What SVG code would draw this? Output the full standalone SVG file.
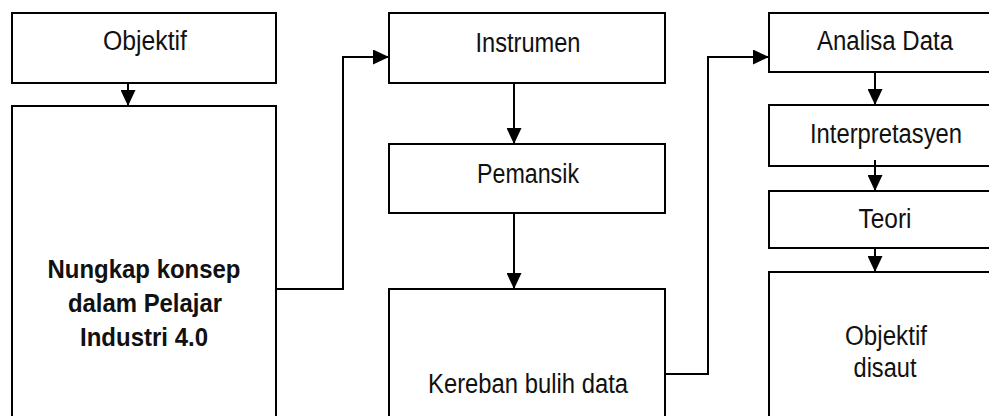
<svg xmlns="http://www.w3.org/2000/svg" width="989" height="416" viewBox="0 0 989 416">
  <defs>
    <marker id="arr" markerUnits="userSpaceOnUse" markerWidth="16" markerHeight="15" refX="16" refY="7.5" orient="auto">
      <path d="M0,0 L16,7.5 L0,15 z" fill="#000"/>
    </marker>
  </defs>
  <style>
    .box { fill: #fff; stroke: #000; stroke-width: 2; }
    .t { font-family: "Liberation Sans", Arial, sans-serif; font-size: 27px; fill: #111; text-anchor: middle; }
    .b { font-weight: bold; font-size: 26px; }
    .c { fill: none; stroke: #000; stroke-width: 2; }
  </style>
  <rect width="989" height="416" fill="#fff"/>

  <g id="objektif">
    <rect class="box" x="12" y="13" width="264" height="70"/>
    <text class="t" x="145" y="50" textLength="84" lengthAdjust="spacingAndGlyphs">Objektif</text>
  </g>
  <g id="nungkap">
    <rect class="box" x="12" y="106" width="264" height="330"/>
    <text class="t b" x="144" y="278" textLength="193" lengthAdjust="spacingAndGlyphs">Nungkap konsep</text>
    <text class="t b" x="145" y="312" textLength="154" lengthAdjust="spacingAndGlyphs">dalam Pelajar</text>
    <text class="t b" x="144" y="346" textLength="128" lengthAdjust="spacingAndGlyphs">Industri 4.0</text>
  </g>
  <g id="instrumen">
    <rect class="box" x="389" y="13" width="276" height="70"/>
    <text class="t" x="528" y="52" textLength="105" lengthAdjust="spacingAndGlyphs">Instrumen</text>
  </g>
  <g id="pemansik">
    <rect class="box" x="389" y="144" width="276" height="69"/>
    <text class="t" x="528" y="183" textLength="102" lengthAdjust="spacingAndGlyphs">Pemansik</text>
  </g>
  <g id="kereban">
    <rect class="box" x="389" y="289" width="276" height="150"/>
    <text class="t" x="528" y="393" textLength="200" lengthAdjust="spacingAndGlyphs">Kereban bulih data</text>
  </g>
  <g id="analisa">
    <rect class="box" x="769" y="13" width="240" height="59"/>
    <text class="t" x="885" y="50" textLength="136" lengthAdjust="spacingAndGlyphs">Analisa Data</text>
  </g>
  <g id="interpretasyen">
    <rect class="box" x="769" y="105" width="240" height="61"/>
    <text class="t" x="886" y="143" textLength="152" lengthAdjust="spacingAndGlyphs">Interpretasyen</text>
  </g>
  <g id="teori">
    <rect class="box" x="769" y="191" width="240" height="57"/>
    <text class="t" x="885" y="228" textLength="53" lengthAdjust="spacingAndGlyphs">Teori</text>
  </g>
  <g id="objektif-disaut">
    <rect class="box" x="769" y="272" width="240" height="170"/>
    <text class="t" x="886" y="345" textLength="82" lengthAdjust="spacingAndGlyphs">Objektif</text>
    <text class="t" x="885" y="377" textLength="63" lengthAdjust="spacingAndGlyphs">disaut</text>
  </g>

  <g id="connectors">
    <path class="c" d="M128,83 L128,106" marker-end="url(#arr)"/>
    <path class="c" d="M276,289 L343,289 L343,57 L389,57" marker-end="url(#arr)"/>
    <path class="c" d="M514,83 L514,144" marker-end="url(#arr)"/>
    <path class="c" d="M514,213 L514,289" marker-end="url(#arr)"/>
    <path class="c" d="M665,374 L708,374 L708,57 L769,57" marker-end="url(#arr)"/>
    <path class="c" d="M875,72 L875,105" marker-end="url(#arr)"/>
    <path class="c" d="M875,160 L875,191" marker-end="url(#arr)"/>
    <path class="c" d="M875,248 L875,272" marker-end="url(#arr)"/>
  </g>
</svg>
